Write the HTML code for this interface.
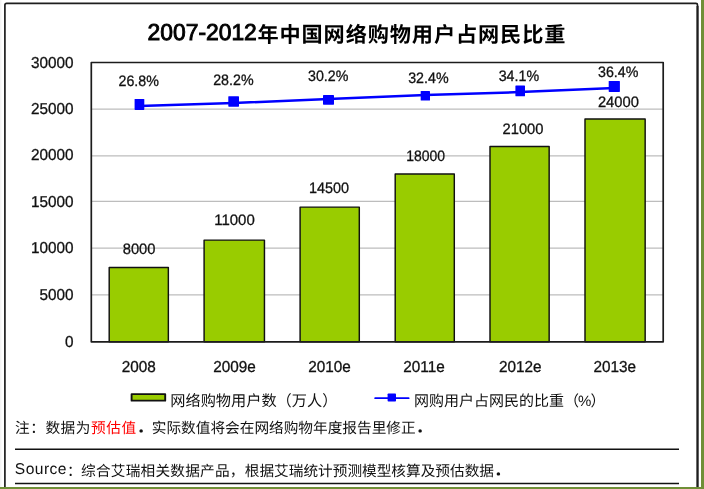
<!DOCTYPE html>
<html lang="zh-CN">
<head>
<meta charset="utf-8">
<title>2007-2012年中国网络购物用户占网民比重</title>
<style>
html,body{margin:0;padding:0;background:#fff;}
body{width:704px;height:489px;overflow:hidden;}
svg{display:block;font-family:"Liberation Sans", "Noto Sans CJK SC", sans-serif;text-rendering:geometricPrecision;}
.t{font-size:15.8px;fill:#111;stroke:#111;stroke-width:0.3px;}
.c{font-size:14.67px;fill:#111;}
.lg{font-size:15.2px;}
.w{letter-spacing:0.55px;}
.d{font-weight:900;}
.s{font-size:15.6px;letter-spacing:0.45px;}
.h{font-size:22px;font-weight:bold;fill:#000;}
.hl{font-size:23px;font-weight:normal;stroke:#000;stroke-width:0.9px;}
.hc{font-size:21.2px;}
</style>
</head>
<body>
<svg width="704" height="489" viewBox="0 0 704 489">
<rect x="0" y="0" width="704" height="489" fill="#ffffff"/>
<rect x="701" y="0" width="3" height="489" fill="#6f8f37"/>
<rect x="0" y="487" width="704" height="2" fill="#6f8f37"/>
<rect x="0" y="0" width="1" height="487" fill="#f4f4f4"/>
<rect x="1" y="0" width="1" height="487" fill="#fafafa"/>
<path d="M4.9 487 V5 Q4.9 3.4 6.5 3.4 H695.9 Q697.5 3.4 697.5 5 V487" fill="none" stroke="#1e1e1e" stroke-width="1.7"/>
<line x1="697.55" y1="6" x2="697.55" y2="487" stroke="#1e1e1e" stroke-width="2"/>
<text class="h" y="40"><tspan class="hl" x="147.6" textLength="109.2" lengthAdjust="spacingAndGlyphs">2007-2012</tspan><tspan class="hc" x="257.4" dy="1.5" textLength="308.0" lengthAdjust="spacing">年中国网络购物用户占网民比重</tspan></text>
<line x1="91.3" y1="294.9" x2="663.2" y2="294.9" stroke="#bdbdbd" stroke-width="1.3"/>
<line x1="91.3" y1="248.2" x2="663.2" y2="248.2" stroke="#bdbdbd" stroke-width="1.3"/>
<line x1="91.3" y1="201.4" x2="663.2" y2="201.4" stroke="#bdbdbd" stroke-width="1.3"/>
<line x1="91.3" y1="155.9" x2="663.2" y2="155.9" stroke="#bdbdbd" stroke-width="1.3"/>
<line x1="91.3" y1="109.2" x2="663.2" y2="109.2" stroke="#bdbdbd" stroke-width="1.3"/>
<rect x="109.20" y="267.50" width="59.15" height="74.30" fill="#99cc00" stroke="#111" stroke-width="1.45" stroke-linejoin="round"/>
<rect x="204.10" y="240.10" width="60.35" height="101.70" fill="#99cc00" stroke="#111" stroke-width="1.45" stroke-linejoin="round"/>
<rect x="300.10" y="207.10" width="59.20" height="134.70" fill="#99cc00" stroke="#111" stroke-width="1.45" stroke-linejoin="round"/>
<rect x="395.20" y="174.07" width="59.10" height="167.73" fill="#99cc00" stroke="#111" stroke-width="1.45" stroke-linejoin="round"/>
<rect x="490.00" y="146.50" width="59.16" height="195.30" fill="#99cc00" stroke="#111" stroke-width="1.45" stroke-linejoin="round"/>
<rect x="585.00" y="119.07" width="60.16" height="222.73" fill="#99cc00" stroke="#111" stroke-width="1.45" stroke-linejoin="round"/>
<rect x="91.3" y="62.5" width="571.9" height="279.3" fill="none" stroke="#1c1c1c" stroke-width="1.7" stroke-linejoin="round"/>
<text class="t" transform="translate(73.60 346.80) scale(0.970 1)" text-anchor="end">0</text>
<text class="t" transform="translate(73.60 300.10) scale(0.970 1)" text-anchor="end">5000</text>
<text class="t" transform="translate(73.60 253.20) scale(0.970 1)" text-anchor="end">10000</text>
<text class="t" transform="translate(73.60 206.60) scale(0.970 1)" text-anchor="end">15000</text>
<text class="t" transform="translate(73.60 159.80) scale(0.970 1)" text-anchor="end">20000</text>
<text class="t" transform="translate(73.60 114.00) scale(0.970 1)" text-anchor="end">25000</text>
<text class="t" transform="translate(73.60 67.50) scale(0.970 1)" text-anchor="end">30000</text>
<text class="t" transform="translate(138.70 372.20) scale(0.970 1)" text-anchor="middle">2008</text>
<text class="t" transform="translate(234.50 372.20) scale(0.970 1)" text-anchor="middle">2009e</text>
<text class="t" transform="translate(329.50 372.20) scale(0.970 1)" text-anchor="middle">2010e</text>
<text class="t" transform="translate(424.00 372.20) scale(0.970 1)" text-anchor="middle">2011e</text>
<text class="t" transform="translate(520.30 372.20) scale(0.970 1)" text-anchor="middle">2012e</text>
<text class="t" transform="translate(614.80 372.20) scale(0.970 1)" text-anchor="middle">2013e</text>
<text class="t" transform="translate(139.10 254.20) scale(0.970 1)" text-anchor="middle" style="font-size:15.2px">8000</text>
<text class="t" transform="translate(234.50 224.70) scale(0.985 1)" text-anchor="middle" style="font-size:15.2px">11000</text>
<text class="t" transform="translate(329.05 192.60) scale(0.950 1)" text-anchor="middle" style="font-size:15.2px">14500</text>
<text class="t" transform="translate(425.60 160.90) scale(0.920 1)" text-anchor="middle" style="font-size:15.2px">18000</text>
<text class="t" transform="translate(523.00 134.40) scale(0.970 1)" text-anchor="middle" style="font-size:15.2px">21000</text>
<text class="t" transform="translate(618.40 106.80) scale(0.970 1)" text-anchor="middle" style="font-size:15.2px">24000</text>
<polyline points="139.5,105.9 233.6,103.0 328.5,99.0 425.4,95.1 520.2,92.1 614.3,88.0" fill="none" stroke="#0000ff" stroke-width="2.5"/>
<rect x="134.60" y="99.00" width="9.70" height="10.90" rx="0.6" fill="#0000ff"/>
<rect x="228.30" y="96.15" width="10.70" height="10.55" rx="0.6" fill="#0000ff"/>
<rect x="323.00" y="94.90" width="11.00" height="9.80" rx="0.6" fill="#0000ff"/>
<rect x="420.70" y="90.90" width="9.30" height="9.70" rx="0.6" fill="#0000ff"/>
<rect x="515.40" y="85.40" width="9.60" height="10.90" rx="0.6" fill="#0000ff"/>
<rect x="608.70" y="81.00" width="11.20" height="10.90" rx="0.6" fill="#0000ff"/>
<text class="t" style="font-size:15.2px" transform="translate(118.50 86.20)" textLength="40.4" lengthAdjust="spacingAndGlyphs">26.8%</text>
<text class="t" style="font-size:15.2px" transform="translate(213.20 85.00)" textLength="40.4" lengthAdjust="spacingAndGlyphs">28.2%</text>
<text class="t" style="font-size:15.2px" transform="translate(308.00 80.70)" textLength="40.4" lengthAdjust="spacingAndGlyphs">30.2%</text>
<text class="t" style="font-size:15.2px" transform="translate(408.20 82.50)" textLength="40.4" lengthAdjust="spacingAndGlyphs">32.4%</text>
<text class="t" style="font-size:15.2px" transform="translate(498.70 80.60)" textLength="40.4" lengthAdjust="spacingAndGlyphs">34.1%</text>
<text class="t" style="font-size:15.2px" transform="translate(598.00 76.60)" textLength="40.4" lengthAdjust="spacingAndGlyphs">36.4%</text>
<rect x="131.6" y="394.15" width="33.6" height="6.5" fill="#99cc00" stroke="#111" stroke-width="1.9" stroke-linejoin="round"/>
<text class="c lg" x="170.3" y="405.9">网络购物用户数（万人）</text>
<line x1="375.2" y1="398.15" x2="408.6" y2="398.15" stroke="#0000ff" stroke-width="1.9" stroke-linecap="round"/>
<rect x="387.6" y="393.5" width="8.4" height="8.1" rx="0.8" fill="#0000ff"/>
<text class="c lg" x="414" y="405.9" style="font-size:15px">网购用户占网民的比重<tspan style="letter-spacing:-0.9px">（%）</tspan></text>
<text class="c" y="432.7"><tspan class="w" x="15">注：数据为</tspan><tspan class="w" fill="#ff0000">预估值</tspan><tspan class="w d">．</tspan><tspan x="151.8">实际数值将会在网络购物年度报告里修正</tspan><tspan class="d">．</tspan></text>
<line x1="15" y1="449.25" x2="679" y2="449.25" stroke="#111" stroke-width="1.5"/>
<text class="c" y="475.6"><tspan class="s" x="14.8" dy="-1.4">Source</tspan><tspan x="67.1" dy="1.4">：</tspan><tspan x="81.0" style="letter-spacing:0.22px">综合艾瑞相关数据产品，</tspan><tspan x="244.8">根据艾瑞统计预测模型核算及预估数据</tspan><tspan class="d">．</tspan></text>
<line x1="15" y1="483.6" x2="679" y2="483.6" stroke="#111" stroke-width="1.5"/>
</svg>
</body>
</html>
